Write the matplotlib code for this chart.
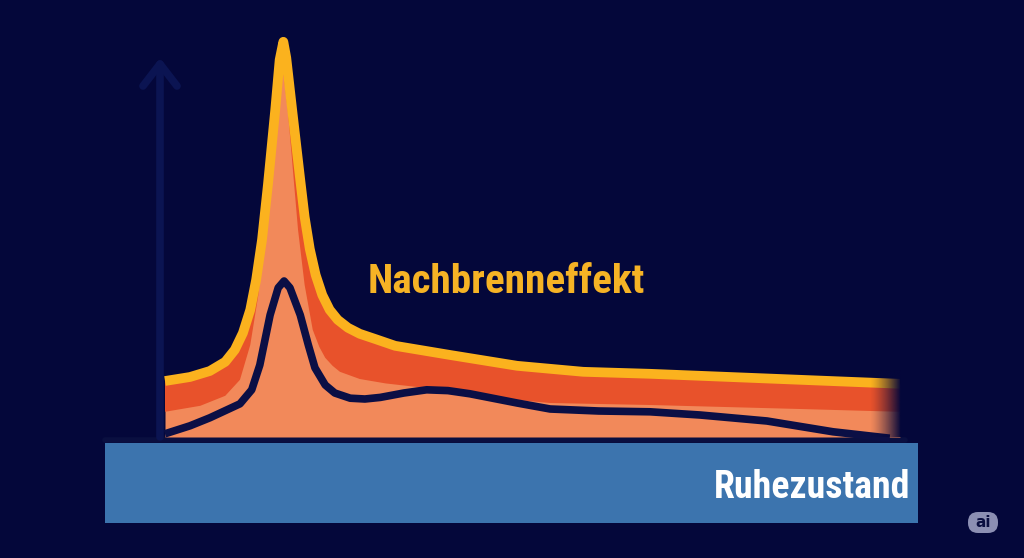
import numpy as np
import matplotlib.pyplot as plt
from matplotlib.patches import Rectangle, FancyBboxPatch

# time axis 0..100, level 0..100
t_total = [0, 3.4, 6.1, 8.2, 9.5, 10.6, 11.6, 12.4, 13.2, 14.0, 15.0, 15.6, 16.1, 16.5,
           17.3, 18.4, 19.0, 19.7, 20.5, 21.4, 22.4, 23.5, 24.9, 26.5, 28.6, 31.3, 38.8,
           47.9, 56.9, 66, 79.6, 93.2, 100]
v_total = [14, 15, 16.5, 18.8, 21.8, 26, 31.8, 39.3, 49.3, 63, 81.8, 94.3, 98.8, 94.8,
           81.8, 64.3, 55, 47, 40.5, 35.5, 31.8, 29.3, 27.3, 25.8, 24.5, 22.8, 20.5,
           17.8, 16.3, 15.8, 14.8, 13.8, 13.3]

t_inner = [0, 4.8, 8.2, 10.2, 11.6, 12.7, 13.7, 14.7, 15.5, 16.1, 16.7, 17.4, 18.1, 19.0,
           20.1, 21.0, 21.8, 22.8, 23.8, 26.5, 30.0, 34.3, 43.3, 52.4, 66, 86.4, 100]
v_inner = [6.3, 7.8, 10.3, 14.3, 23, 35.5, 53, 71.8, 85.5, 91.3, 81.8, 66.8, 51.8, 38,
           26.8, 22.5, 19.8, 17.8, 16.3, 14.5, 13.4, 12.5, 10, 8.5, 8, 7, 6.3]

t_base = [0, 3.4, 6.1, 10.2, 11.8, 12.9, 14.3, 15.4, 16.2, 17.0, 18.4, 19.5, 20.4, 21.8,
          23.1, 25.2, 27.2, 29.3, 32.5, 35.6, 38.5, 41.5, 47.9, 52.4, 59, 66, 72.8, 81.9,
          90.9, 98.6]
v_base = [0.8, 2.8, 4.8, 8.3, 11.8, 18, 30.5, 37.3, 39, 37.3, 30.5, 23, 17.3, 13,
          11, 9.7, 9.5, 9.9, 11, 11.8, 11.6, 10.8, 8.5, 7, 6.5, 6.3, 5.5, 4, 1.3, -0.3]

label_top = 'Nachbrenneffekt'
label_bottom = 'Ruhezustand'

bg = '#04073A'
W, H = 1024, 558

fig = plt.figure(figsize=(W / 100, H / 100), dpi=100, facecolor=bg)

# background layer in pixel coordinates
ax_bg = fig.add_axes([0, 0, 1, 1], zorder=0)
ax_bg.set_xlim(0, W)
ax_bg.set_ylim(H, 0)
ax_bg.set_facecolor(bg)
ax_bg.axis('off')

ax_bg.add_patch(Rectangle((105, 443), 813, 80, color='#3C74AE', lw=0))
ax_bg.plot([105, 905], [440, 440], color='#0A0F40', lw=4, solid_capstyle='round')
ax_bg.plot([160, 160], [437, 64], color='#0B1452', lw=5.5, solid_capstyle='round')
ax_bg.plot([143, 160, 177], [86, 64, 86], color='#0B1452', lw=5.5,
           solid_capstyle='round', solid_joinstyle='round')

txt_font = ['Roboto Condensed', 'DejaVu Sans']
ax_bg.text(368, 293, label_top, color='#F6B325', fontsize=29.6, fontweight='bold',
           family=txt_font, fontstretch='condensed', ha='left', va='baseline')
ax_bg.text(910, 498, label_bottom, color='white', fontsize=27.3, fontweight='bold',
           family=txt_font, fontstretch='condensed', ha='right', va='baseline')

ax_bg.add_patch(FancyBboxPatch((968, 512), 30, 21, boxstyle='round,pad=0,rounding_size=10',
                               color='#8C8FB3', lw=0))
ax_bg.text(983, 522.5, 'ai', color='#0A0E40', fontsize=11, fontweight='bold',
           ha='center', va='center')

# curves
ax = fig.add_axes([165 / W, (H - 437) / H, 735 / W, 400 / H], zorder=1)
ax.set_xlim(0, 100)
ax.set_ylim(0, 100)
ax.patch.set_alpha(0)
ax.axis('off')

ax.fill_between(t_total, 0, v_total, color='#F2895A', lw=0, clip_on=False)
ax.fill(np.concatenate([t_total, t_inner[::-1]]), np.concatenate([v_total, v_inner[::-1]]),
        color='#E8522B', lw=0, clip_on=False)
ax.plot(t_total, v_total, color='#FBB21E', lw=7, solid_capstyle='butt',
        solid_joinstyle='round', clip_on=False)
ax.plot(t_base, v_base, color='#0B0F45', lw=5.5, solid_capstyle='butt',
        solid_joinstyle='round', clip_on=False)

# fade at the right end
ax_fx = fig.add_axes([0, 0, 1, 1], zorder=2)
ax_fx.patch.set_alpha(0)
ax_fx.axis('off')
grad = np.zeros((1, 64, 4))
grad[..., :3] = [4 / 255, 7 / 255, 58 / 255]
grad[..., 3] = np.linspace(0, 1, 64) ** 1.3
ax_fx.imshow(grad, extent=[870, 901, 437, 370], aspect='auto', interpolation='bilinear')
ax_fx.set_xlim(0, W)
ax_fx.set_ylim(H, 0)

fig.savefig('out.png', dpi=100, facecolor=bg)
